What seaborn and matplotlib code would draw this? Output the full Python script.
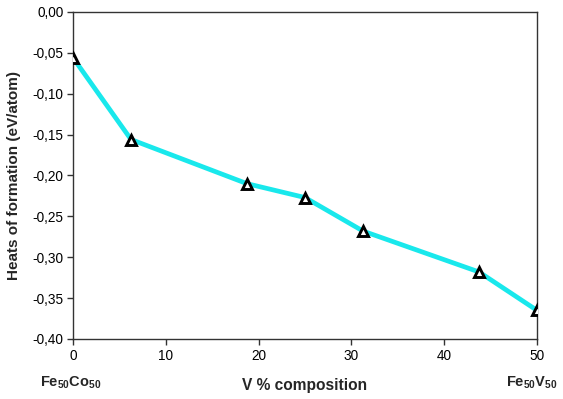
import matplotlib
matplotlib.use("Agg")
import matplotlib.pyplot as plt
import seaborn as sns
import pandas as pd
from matplotlib.ticker import FuncFormatter, MultipleLocator

v_percent = [0, 6.25, 18.75, 25, 31.25, 43.75, 50]
heat = [-0.056, -0.156, -0.210, -0.227, -0.268, -0.318, -0.365]
x_label = "V % composition"
y_label = "Heats of formation (eV/atom)"
left_label = r"$\mathbf{Fe_{50}Co_{50}}$"
right_label = r"$\mathbf{Fe_{50}V_{50}}$"

sns.set_theme(style="white")
plt.rcParams['font.family'] = ['Liberation Sans', 'DejaVu Sans']
plt.rcParams['mathtext.fontset'] = 'custom'
plt.rcParams['mathtext.rm'] = 'Liberation Sans:bold'
plt.rcParams['mathtext.bf'] = 'Liberation Sans:bold'
plt.rcParams['mathtext.it'] = 'Liberation Sans:bold'

df = pd.DataFrame({"x": v_percent, "y": heat})

fig = plt.figure(figsize=(5.63, 3.99), dpi=100)
ax = fig.add_axes([0.1297, 0.1504, 0.8241, 0.8196])
sns.lineplot(data=df, x="x", y="y", ax=ax, color="#19E8EC", linewidth=3.4,
             marker="^", markersize=6.5, markerfacecolor="white",
             markeredgecolor="black", markeredgewidth=2.1, zorder=3)

ax.set_xlim(0, 50)
ax.set_ylim(-0.40, 0.0)
ax.xaxis.set_major_locator(MultipleLocator(10))
ax.yaxis.set_major_locator(MultipleLocator(0.05))
ax.yaxis.set_major_formatter(FuncFormatter(lambda v, p: f"{v:.2f}".replace(".", ",").replace("-0,00", "0,00")))
for s in ax.spines.values():
    s.set_color("#333333")
    s.set_linewidth(1.0)
ax.tick_params(axis="both", direction="out", length=4, width=1, color="#333333",
               labelsize=9.8, labelcolor="black", left=True, bottom=True, pad=3)
ax.set_xlabel(x_label, fontsize=11.2, fontweight="bold")
ax.set_ylabel(y_label, fontsize=11, fontweight="bold")
ax.xaxis.set_label_coords(0.5, -0.1437)
ax.xaxis.label.set_va("center")
ax.yaxis.set_label_coords(-0.127, 0.5)
ax.yaxis.label.set_va("center")
ax.grid(False)

fig.text(0.125, 0.04, left_label, fontsize=10.5, ha="center", va="center")
fig.text(0.945, 0.04, right_label, fontsize=10.5, ha="center", va="center")

fig.savefig("out.png", dpi=100)
